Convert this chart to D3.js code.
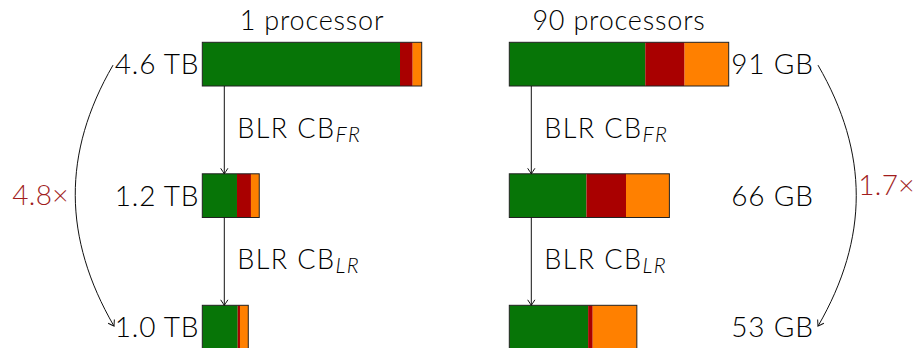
<!DOCTYPE html>
<html>
<head>
<meta charset="utf-8">
<script src="https://cdn.jsdelivr.net/npm/d3@7"></script>
<style>
  body { margin: 0; background: #fff; }
  svg { display: block; }
  text { font-family: Lato, "Open Sans", sans-serif; font-weight: 300; fill: #000; }
</style>
</head>
<body>
<svg id="chart" width="919" height="348"></svg>
<script>
// Memory footprint per stage, split into three components
const panelTitles = ["1 processor", "90 processors"];
const panelUnits = ["TB", "GB"];
const stages = ["baseline", "BLR CB FR", "BLR CB LR"];
const stepNames = ["BLR CB", "BLR CB"];
const stepSubscripts = ["FR", "LR"];

// 1 processor (TB)
const oneProcGreen  = [4.145, 0.727, 0.742];
const oneProcRed    = [0.266, 0.293, 0.048];
const oneProcOrange = [0.189, 0.174, 0.174];

// 90 processors (GB)
const ninetyProcGreen  = [56.4, 32.0, 32.7];
const ninetyProcRed    = [16.3, 16.4, 1.9];
const ninetyProcOrange = [18.3, 18.0, 18.3];

const segmentColors = ["#077507", "#a90000", "#ff8000"];
const accent = "#a11d1d";

const svg = d3.select("#chart");

const panels = [
  { title: panelTitles[0], unit: panelUnits[0], series: [oneProcGreen, oneProcRed, oneProcOrange],
    range: [202.3, 421.7], labelX: 157, labelFmt: d3.format(".1f"),
    ratioX: 69, ratioY: 205, ratioAnchor: "end" },
  { title: panelTitles[1], unit: panelUnits[1], series: [ninetyProcGreen, ninetyProcRed, ninetyProcOrange],
    range: [509.3, 728.7], labelX: 772.5, labelFmt: d3.format(".0f"),
    ratioX: 915, ratioY: 195, ratioAnchor: "end" }
];

const barH = 43.7;
const y = d3.scalePoint().domain(stages).range([42.3, 305.3]);

// arrowhead marker
const defs = svg.append("defs");
defs.append("marker")
  .attr("id", "tip")
  .attr("markerUnits", "userSpaceOnUse")
  .attr("viewBox", "-7 -5 9 10")
  .attr("markerWidth", 9).attr("markerHeight", 10)
  .attr("refX", 0).attr("refY", 0)
  .attr("orient", "auto")
  .append("path")
  .attr("d", "M-5.5,-3.6 Q-1.5,-1 0,0 Q-1.5,1 -5.5,3.6")
  .attr("fill", "none").attr("stroke", "#111").attr("stroke-width", 1);

panels.forEach((p, pi) => {
  const totals = stages.map((s, i) => d3.sum(p.series, ser => ser[i]));
  const x = d3.scaleLinear().domain([0, totals[0]]).range(p.range);
  const g = svg.append("g");

  // panel title
  g.append("text")
    .attr("x", (p.range[0] + p.range[1]) / 2).attr("y", 30)
    .attr("text-anchor", "middle").attr("font-size", 27)
    .attr("letter-spacing", 0.8)
    .text(p.title);

  // stacked bars
  stages.forEach((s, i) => {
    let acc = 0;
    p.series.forEach((ser, k) => {
      g.append("rect")
        .attr("x", x(acc)).attr("y", y(s))
        .attr("width", x(acc + ser[i]) - x(acc)).attr("height", barH)
        .attr("fill", segmentColors[k]);
      acc += ser[i];
    });
    g.append("rect")
      .attr("x", x(0)).attr("y", y(s))
      .attr("width", x(totals[i]) - x(0)).attr("height", barH)
      .attr("fill", "none").attr("stroke", "#222").attr("stroke-width", 1);

    // size label
    g.append("text")
      .attr("x", p.labelX).attr("y", y(s) + barH / 2 + 10)
      .attr("text-anchor", "middle").attr("font-size", 28)
      .attr("letter-spacing", 0.8)
      .text(p.labelFmt(totals[i]) + " " + p.unit);
  });

  // vertical step arrows with technique labels
  const ax = x(0) + 22;
  stepNames.forEach((name, j) => {
    const y0 = y(stages[j]) + barH, y1 = y(stages[j + 1]);
    g.append("line")
      .attr("x1", ax).attr("x2", ax).attr("y1", y0).attr("y2", y1)
      .attr("stroke", "#111").attr("stroke-width", 1)
      .attr("marker-end", "url(#tip)");
    const t = g.append("text")
      .attr("x", ax + 13).attr("y", (y0 + y1) / 2 + 8)
      .attr("font-size", 27).attr("letter-spacing", 1.4);
    t.append("tspan").text(name);
    t.append("tspan").attr("font-size", 21).attr("font-style", "italic")
      .attr("dy", 4).text(stepSubscripts[j]);
  });

  // overall reduction arc
  const side = pi === 0 ? -1 : 1;
  const sx = pi === 0 ? 113 : 818;
  const ex = pi === 0 ? 114 : 818;
  const sy = y(stages[0]) + barH / 2 + 1;
  const ey = y(stages[2]) + barH / 2 - 1;
  const bend = 51, k = 88;
  const path = d3.path();
  path.moveTo(sx, sy);
  path.bezierCurveTo(sx + side * bend, sy + k, ex + side * bend, ey - k, ex, ey);
  g.append("path")
    .attr("d", path.toString())
    .attr("fill", "none").attr("stroke", "#111").attr("stroke-width", 1)
    .attr("marker-end", "url(#tip)");

  const ratio = totals[0] / totals[2];
  g.append("text")
    .attr("x", p.ratioX).attr("y", p.ratioY)
    .attr("text-anchor", p.ratioAnchor)
    .attr("font-size", 28).attr("letter-spacing", 0.4)
    .style("fill", accent)
    .text(d3.format(".1f")(ratio) + "×");
});
</script>
</body>
</html>
